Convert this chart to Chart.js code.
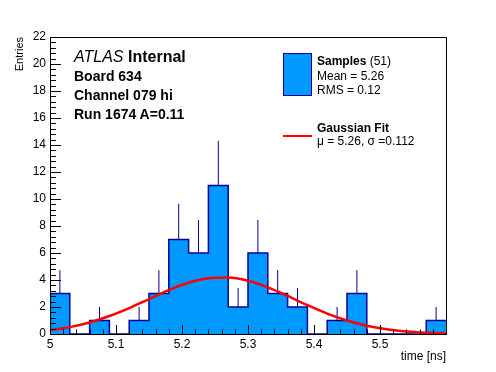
<!DOCTYPE html>
<html>
<head>
<meta charset="utf-8">
<script src="https://cdn.jsdelivr.net/npm/chart.js@4/dist/chart.umd.min.js"></script>
<style>
html, body { margin: 0; padding: 0; background: #fff; }
#wrap { position: relative; width: 496px; height: 372px; font-family: "Liberation Sans", Arial, sans-serif; color: #000; }
#wrap canvas { position: absolute; left: 0; top: 0; }
.t { position: absolute; white-space: nowrap; line-height: 1; }
</style>
</head>
<body>
<div id="wrap">
  <canvas id="c" width="496" height="372"></canvas>
  <div class="t" style="left:74px;top:49px;font-size:16px"><i>ATLAS</i> <b>Internal</b></div>
  <div class="t" style="left:74px;top:69px;font-size:14px;font-weight:bold">Board 634</div>
  <div class="t" style="left:74px;top:88px;font-size:14px;font-weight:bold">Channel 079 hi</div>
  <div class="t" style="left:74px;top:107px;font-size:14px;font-weight:bold">Run 1674 A=0.11</div>

  <div style="position:absolute;left:283px;top:53px;width:29px;height:43px;box-sizing:border-box;background:#0099ff;border:1.5px solid #000099"></div>
  <div class="t" style="left:317px;top:55px;font-size:12px"><b>Samples</b> (51)</div>
  <div class="t" style="left:317px;top:70px;font-size:12px">Mean = 5.26</div>
  <div class="t" style="left:317px;top:84px;font-size:12px">RMS = 0.12</div>
  <div style="position:absolute;left:283px;top:135px;width:29px;height:2px;background:#ff0000"></div>
  <div class="t" style="left:317px;top:122px;font-size:12px;font-weight:bold">Gaussian Fit</div>
  <div class="t" style="left:317px;top:135px;font-size:12px">μ = 5.26, σ =0.112</div>
</div>
<script>
// histogram bins (lower edges), counts and error sizes
const binStarts = [5.00, 5.03, 5.06, 5.09, 5.12, 5.15, 5.18, 5.21, 5.24, 5.27,
                   5.30, 5.33, 5.36, 5.39, 5.42, 5.45, 5.48, 5.51, 5.54, 5.57];
const binWidth = 0.03;
const counts = [3, 0, 1, 0, 1, 3, 7, 6, 11, 2, 6, 3, 2, 0, 1, 3, 0, 0, 0, 1];
const errors = [1.73, 0, 1, 0, 1, 1.73, 2.65, 2.45, 3.32, 1.41,
                2.45, 1.73, 1.41, 0, 1, 1.73, 0, 0, 0, 1];

// gaussian fit curve
const fitX = [5.00, 5.03, 5.06, 5.09, 5.12, 5.15, 5.18, 5.21, 5.24, 5.27, 5.30,
              5.33, 5.36, 5.39, 5.42, 5.45, 5.48, 5.51, 5.54, 5.57, 5.60];
const fitY = [0.28, 0.51, 0.85, 1.33, 1.92, 2.59, 3.25, 3.80, 4.13, 4.18, 3.94,
              3.45, 2.82, 2.14, 1.51, 1.00, 0.61, 0.35, 0.18, 0.09, 0.04];

const xTicks = [5, 5.1, 5.2, 5.3, 5.4, 5.5];
const yTicks = [0, 2, 4, 6, 8, 10, 12, 14, 16, 18, 20, 22];

const FONT = '"Liberation Sans", Arial, sans-serif';

// step outline of the histogram
const histPts = binStarts.map((x, i) => ({ x: x, y: counts[i] }));
histPts.push({ x: binStarts[binStarts.length - 1] + binWidth, y: counts[counts.length - 1] });

// error bars: only the part above the bar shows
const errPts = [];
counts.forEach((n, i) => {
    if (n <= 0) return;
    const xc = binStarts[i] + binWidth / 2;
    errPts.push({ x: xc, y: n }, { x: xc, y: n + errors[i] }, { x: xc, y: null });
});

// ROOT-like frame with inward ticks
const rootFrame = {
    id: 'rootFrame',
    afterDraw(chart) {
        const { ctx, chartArea: a, scales: { x, y } } = chart;
        ctx.save();
        ctx.strokeStyle = '#000';
        ctx.lineWidth = 1;
        ctx.beginPath();
        for (let i = 0; i <= 55; i++) {
            const py = Math.round(y.getPixelForValue(i * 0.4)) + 0.5;
            ctx.moveTo(a.left, py);
            ctx.lineTo(a.left + (i % 5 === 0 ? 11 : 6), py);
        }
        for (let i = 0; i <= 30; i++) {
            const px = Math.round(x.getPixelForValue(5 + i * 0.02)) + 0.5;
            ctx.moveTo(px, a.bottom);
            ctx.lineTo(px, a.bottom - (i % 5 === 0 ? 9 : 4.5));
        }
        ctx.stroke();
        ctx.strokeRect(a.left + 0.5, a.top + 0.5, a.right - a.left, a.bottom - a.top);
        ctx.restore();
    }
};

new Chart(document.getElementById('c'), {
    type: 'line',
    data: {
        datasets: [
            {
                label: 'Gaussian Fit',
                data: fitX.map((x, i) => ({ x: x, y: fitY[i] })),
                borderColor: '#ff0000',
                borderWidth: 2.5,
                pointRadius: 0,
                cubicInterpolationMode: 'monotone',
                fill: false,
                order: 0
            },
            {
                label: 'errors',
                data: errPts,
                borderColor: '#000099',
                borderWidth: 1,
                pointRadius: 0,
                spanGaps: false,
                fill: false,
                order: 1
            },
            {
                label: 'Samples',
                data: histPts,
                stepped: 'before',
                fill: 'origin',
                backgroundColor: '#0099ff',
                borderColor: '#000099',
                borderWidth: 1.5,
                pointRadius: 0,
                order: 2
            }
        ]
    },
    options: {
        responsive: false,
        animation: false,
        devicePixelRatio: 1,
        layout: { padding: { top: 37, right: 50, left: 0, bottom: 0 } },
        plugins: { legend: { display: false }, tooltip: { enabled: false } },
        scales: {
            x: {
                type: 'linear',
                min: 5, max: 5.6,
                afterFit(s) { s.height = 38; },
                afterBuildTicks(s) { s.ticks = xTicks.map(v => ({ value: v })); },
                grid: { display: false, drawTicks: false },
                border: { display: false },
                ticks: {
                    autoSkip: false, maxRotation: 0, padding: 3, color: '#000',
                    font: { family: FONT, size: 12 },
                    callback: v => String(Math.round(v * 10) / 10)
                },
                title: {
                    display: true, text: 'time [ns]', align: 'end', color: '#000',
                    font: { family: FONT, size: 12 }, padding: { top: 0, bottom: 8 }
                }
            },
            y: {
                min: 0, max: 22,
                afterFit(s) { s.width = 50; },
                afterBuildTicks(s) { s.ticks = yTicks.map(v => ({ value: v })); },
                grid: { display: false, drawTicks: false },
                border: { display: false },
                ticks: {
                    autoSkip: false, padding: 4, color: '#000',
                    font: { family: FONT, size: 12 },
                    callback: v => String(v)
                },
                title: {
                    display: true, text: 'Entries', align: 'end', color: '#000',
                    font: { family: FONT, size: 11 }, padding: { top: 13, bottom: 0 }
                }
            }
        }
    },
    plugins: [rootFrame]
});
</script>
</body>
</html>
